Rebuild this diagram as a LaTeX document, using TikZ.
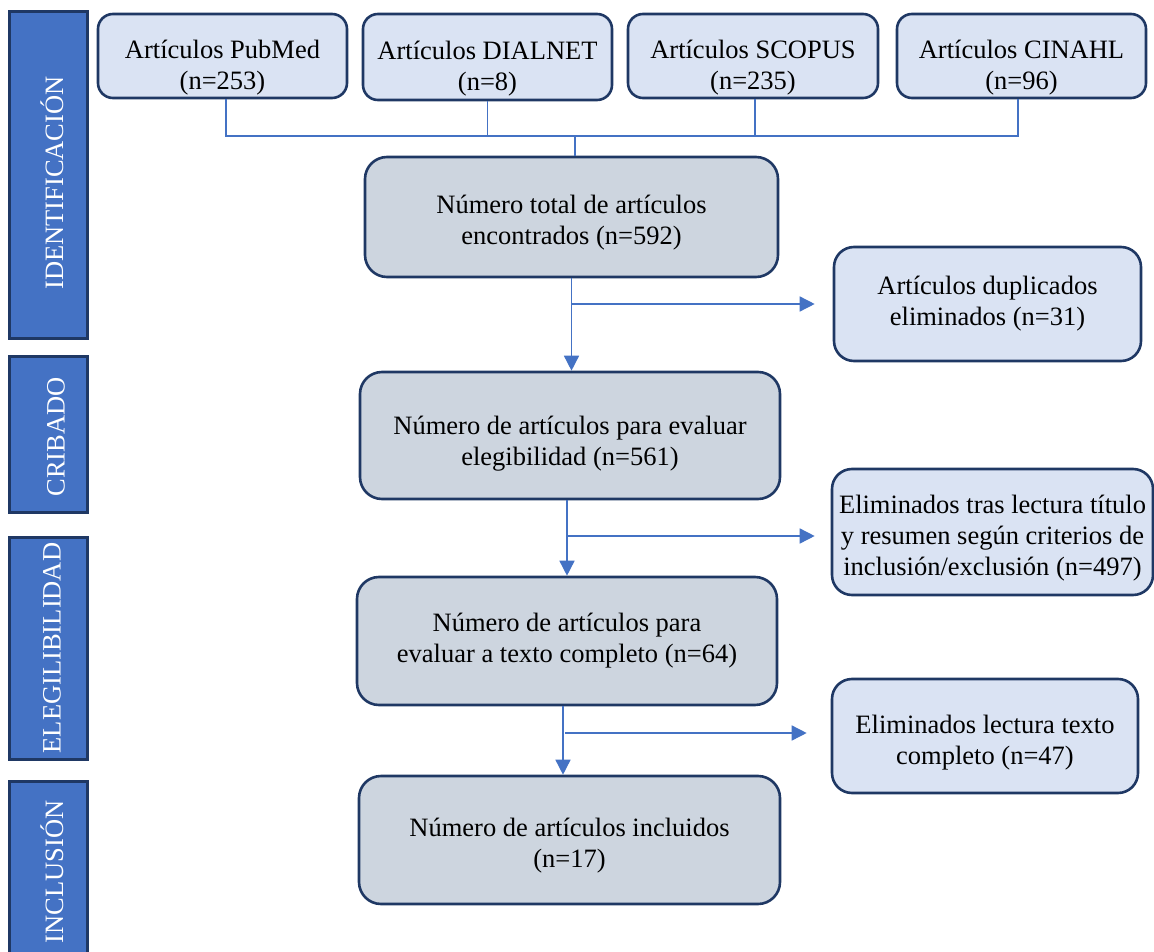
\documentclass[tikz,border=0pt]{standalone}
\usepackage{fontspec}
\setmainfont{Liberation Serif}
\usetikzlibrary{arrows.meta}
\definecolor{navy}{HTML}{1F3864}
\definecolor{bluefill}{HTML}{4472C4}
\definecolor{lightbox}{HTML}{DAE3F3}
\definecolor{graybox}{HTML}{CDD5DF}
\definecolor{linec}{HTML}{4472C4}
\newcommand\sd[1]{\rule{0pt}{#1}}
\begin{document}
\begin{tikzpicture}[x=1pt,y=-1pt,
  every node/.style={font=\fontsize{26.5}{31}\selectfont, align=center, inner sep=0pt},
  side/.style={draw=navy, line width=3pt, fill=bluefill},
  sidetext/.style={text=white, rotate=90},
  src/.style={draw=navy, line width=2.6pt, fill=lightbox, rounded corners=15pt},
  mainbox/.style={draw=navy, line width=2.6pt, fill=graybox, rounded corners=22pt},
  excl/.style={draw=navy, line width=2.6pt, fill=lightbox, rounded corners=20pt},
  conn/.style={draw=linec, line width=1.5pt},
  arr/.style={conn, -{Triangle[length=15pt,width=15pt]}}]
\useasboundingbox (0,0) rectangle (1154,952);

% phase sidebars
\node[side, minimum height=326pt, minimum width=78pt] (ident) at (48,175) {};
\node[side, minimum height=156pt, minimum width=78pt] (crib) at (48,434) {};
\node[side, minimum height=222pt, minimum width=78pt] (eleg) at (48,648) {};
\node[side, minimum height=182pt, minimum width=78pt] (incl) at (48,872) {};
\node[sidetext] (identT) at ([xshift=4pt,yshift=-8pt]ident.center) {IDENTIFICACIÓN};
\node[sidetext] (cribT) at ([xshift=8pt,yshift=-3pt]crib.center) {CRIBADO};
\node[sidetext] (elegT) at ([xshift=4pt]eleg.center) {ELEGILIBILIDAD};
\node[sidetext] (inclT) at ([xshift=4pt]incl.center) {INCLUSIÓN};

% source boxes
\node[src, minimum width=249pt, minimum height=84pt] (pub) at (222.5,56) {\sd{42pt}Artículos PubMed\\(n=253)};
\node[src, minimum width=249pt, minimum height=86pt] (dia) at (487.5,57) {\sd{42pt}Artículos DIALNET\\(n=8)};
\node[src, minimum width=250pt, minimum height=84pt] (sco) at (753,56) {\sd{42pt}Artículos SCOPUS\\(n=235)};
\node[src, minimum width=249pt, minimum height=84pt] (cin) at (1021.5,56) {\sd{42pt}Artículos CINAHL\\(n=96)};

% main flow
\node[mainbox, minimum width=413pt, minimum height=120pt] (tot) at (571.5,217) {\sd{30pt}Número total de artículos\\encontrados (n=592)};
\node[mainbox, minimum width=420pt, minimum height=127pt] (b2) at (570,435.5) {\sd{34pt}Número de artículos para evaluar\\elegibilidad (n=561)};
\node[mainbox, minimum width=420pt, minimum height=128pt] (b3) at (567,641) {Número de artículos para\\evaluar a texto completo (n=64)};
\node[mainbox, minimum width=421pt, minimum height=128pt] (b4) at (569.5,840) {\sd{30pt}Número de artículos incluidos\\(n=17)};

% exclusion boxes
\node[excl, minimum width=307pt, minimum height=114pt] (dup) at (987.5,304) {Artículos duplicados\\eliminados (n=31)};
\node[excl, minimum width=321pt, minimum height=126pt] (el1) at (992.5,532) {\sd{30pt}Eliminados tras lectura título\\y resumen según criterios de\\inclusión/exclusión (n=497)};
\node[excl, minimum width=306pt, minimum height=114pt] (el2) at (985,736) {\sd{32pt}Eliminados lectura texto\\completo (n=47)};

% merge connector
\coordinate (j) at (575,136);
\draw[conn] ([xshift=3.5pt]pub.south) |- ([xshift=-3.5pt]cin.south |- j) -- ([xshift=-3.5pt]cin.south);
\draw[conn] (dia.south) -- (dia.south |- j);
\draw[conn] ([xshift=2pt]sco.south) -- ([xshift=2pt]sco.south |- j);
\draw[conn] (j) -- (j |- tot.north);

% flow arrows
\draw[arr] (tot.south) -- (tot.south |- b2.north);
\draw[arr] (tot.south |- dup.west) -- ([xshift=-18pt]dup.west);
\draw[arr] (b3.north |- b2.south) -- (b3.north);
\draw[arr] (b3.north |- el1.west) ++(0,4) coordinate (h1) -- ([xshift=-16pt]el1.west |- h1);
\draw[arr] ([xshift=-4pt]b3.south) -- ([xshift=-4pt]b3.south |- b4.north);
\draw[arr] ([xshift=-2pt]b3.south |- el2.west) ++(0,-3) coordinate (h2) -- ([xshift=-24pt]el2.west |- h2);
\end{tikzpicture}
\end{document}
